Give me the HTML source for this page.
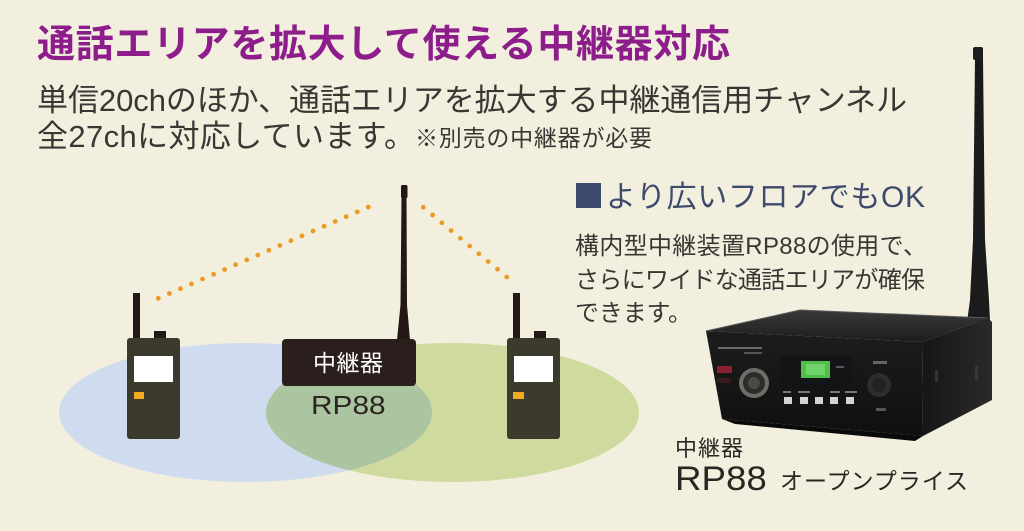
<!DOCTYPE html>
<html><head><meta charset="utf-8"><style>
html,body{margin:0;padding:0;background:#f3efdf;}
svg{display:block;}
text{font-family:"Liberation Sans","Noto Sans CJK JP",sans-serif;}
</style></head><body>
<svg width="1024" height="531" viewBox="0 0 1024 531" xmlns="http://www.w3.org/2000/svg">
<defs>
<clipPath id="cb"><ellipse cx="245.5" cy="412.5" rx="186.5" ry="69.5"/></clipPath>
<linearGradient id="topf" x1="0" y1="0" x2="0" y2="1"><stop offset="0" stop-color="#3a3a3a"/><stop offset="1" stop-color="#1c1c1c"/></linearGradient>
<linearGradient id="frontf" x1="0" y1="0" x2="0" y2="1"><stop offset="0" stop-color="#1d1d1e"/><stop offset="1" stop-color="#0f0f10"/></linearGradient>
<linearGradient id="sidef" x1="0" y1="0" x2="1" y2="0"><stop offset="0" stop-color="#161616"/><stop offset="1" stop-color="#2a2a2a"/></linearGradient>
</defs>
<rect width="1024" height="531" fill="#f3efdf"/>

<!-- Header text -->
<text x="37" y="57" font-size="38" font-weight="bold" fill="#8c1d8a" textLength="693" lengthAdjust="spacing">通話エリアを拡大して使える中継器対応</text>
<text x="37" y="111" font-size="31" fill="#3b3634" textLength="870" lengthAdjust="spacing">単信20chのほか、通話エリアを拡大する中継通信用チャンネル</text>
<text x="37" y="147" font-size="31" fill="#3b3634" textLength="378" lengthAdjust="spacing">全27chに対応しています。</text>
<text x="415" y="146" font-size="23" fill="#3b3634" textLength="237" lengthAdjust="spacing">※別売の中継器が必要</text>

<!-- Right heading -->
<rect x="576" y="183" width="25" height="25" fill="#3e4a6c"/>
<text x="606" y="207" font-size="30" fill="#3e4a6c" textLength="319" lengthAdjust="spacing">より広いフロアでもOK</text>
<text x="575" y="254" font-size="24" fill="#3b3634" textLength="352" lengthAdjust="spacing">構内型中継装置RP88の使用で、</text>
<text x="575" y="288" font-size="24" fill="#3b3634" textLength="350" lengthAdjust="spacing">さらにワイドな通話エリアが確保</text>
<text x="575" y="321" font-size="24" fill="#3b3634" textLength="117" lengthAdjust="spacing">できます。</text>

<!-- Ellipses -->
<ellipse cx="245.5" cy="412.5" rx="186.5" ry="69.5" fill="#cfdbee"/>
<ellipse cx="452.5" cy="412.5" rx="186.5" ry="69.5" fill="#cfda9e"/>
<ellipse cx="452.5" cy="412.5" rx="186.5" ry="69.5" fill="#aac59f" clip-path="url(#cb)"/>

<!-- Dotted links -->
<line x1="158.3" y1="298.3" x2="379.3" y2="202.3" stroke="#ec9a22" stroke-width="4.8" stroke-linecap="round" stroke-dasharray="0 12.05"/>
<line x1="423.3" y1="207.3" x2="516" y2="284.7" stroke="#ec9a22" stroke-width="4.8" stroke-linecap="round" stroke-dasharray="0 12.08"/>

<!-- Left walkie -->
<rect x="133" y="293" width="7" height="48" fill="#231a17"/>
<rect x="154" y="331" width="12" height="10" fill="#231a17"/>
<rect x="127" y="338" width="53" height="101" rx="3" fill="#3c3a2c"/>
<rect x="134" y="356" width="39" height="26" fill="#ffffff"/>
<rect x="134" y="392" width="10" height="7" fill="#f2ab1c"/>

<!-- Right walkie -->
<rect x="513" y="293" width="7" height="48" fill="#231a17"/>
<rect x="534" y="331" width="12" height="10" fill="#231a17"/>
<rect x="507" y="338" width="53" height="101" rx="3" fill="#3c3a2c"/>
<rect x="514" y="356" width="39" height="26" fill="#ffffff"/>
<rect x="513" y="392" width="11" height="7" fill="#f2ab1c"/>

<!-- Repeater -->
<rect x="401" y="185" width="6.5" height="13" rx="1.5" fill="#231815"/>
<polygon points="401.5,197 406.5,197 407,305 410,340 397,340 400.5,305" fill="#231815"/>
<rect x="282" y="339" width="134" height="47" rx="4" fill="#2a1f1c"/>
<text x="313" y="371" font-size="23" fill="#ffffff" textLength="70" lengthAdjust="spacing">中継器</text>
<text transform="translate(311,414) scale(1.17,1)" x="0" y="0" font-size="25.5" fill="#2b2420">RP88</text>

<!-- Device photo (approximation) -->
<rect x="973" y="47" width="10" height="13" rx="2" fill="#1e1e1e"/>
<polygon points="975,58 983,58 985,240 989,300 990,322 967,322 970,300 973,240" fill="#1b1b1b"/>
<polygon points="706,331 800,310 988,318 922,342" fill="url(#topf)"/>
<polyline points="706,331 800,310 988,318" fill="none" stroke="#5a5a5a" stroke-width="1"/>
<polygon points="922,342 988,318 992,322 992,400 923,436" fill="url(#sidef)"/>
<polygon points="706,331 922,342 923,436 722,419" fill="url(#frontf)"/>
<polygon points="722,419 923,436 915,441 735,424" fill="#0a0a0a"/>
<!-- front details -->
<rect x="718" y="347" width="44" height="2" fill="#6a6a6a"/>
<rect x="744" y="352" width="18" height="2" fill="#555"/>
<rect x="717" y="366" width="15" height="7" fill="#8a2030"/>
<rect x="717" y="378" width="14" height="5" fill="#3a1a1e"/>
<circle cx="754" cy="383" r="15" fill="#6e6e68"/>
<circle cx="754" cy="383" r="11" fill="#2c2c2a"/>
<circle cx="754" cy="383" r="6" fill="#4a4a46"/>
<rect x="780" y="356" width="72" height="36" fill="#121416"/>
<rect x="801" y="361" width="29" height="17" fill="#4fbf4a"/>
<rect x="806" y="364" width="19" height="11" fill="#6fd46a"/>
<rect x="836" y="366" width="8" height="2" fill="#556"/>
<rect x="784" y="397" width="8" height="7" fill="#d4d4d0"/>
<rect x="800" y="397" width="8" height="7" fill="#d4d4d0"/>
<rect x="815" y="397" width="8" height="7" fill="#d4d4d0"/>
<rect x="830" y="397" width="8" height="7" fill="#d4d4d0"/>
<rect x="846" y="397" width="8" height="7" fill="#d4d4d0"/>
<rect x="783" y="391" width="8" height="2" fill="#777"/>
<rect x="798" y="391" width="12" height="2" fill="#777"/>
<rect x="830" y="391" width="10" height="2" fill="#777"/>
<rect x="845" y="391" width="12" height="2" fill="#777"/>
<circle cx="879" cy="385" r="12" fill="#2d2d2d"/>
<circle cx="879" cy="385" r="7" fill="#222"/>
<rect x="873" y="361" width="14" height="3" fill="#666"/>
<rect x="876" y="408" width="10" height="3" fill="#555"/>
<rect x="935" y="370" width="3" height="12" fill="#333"/>
<rect x="975" y="366" width="3" height="14" fill="#383838"/>

<!-- Device labels -->
<text x="675" y="456" font-size="22" fill="#2a2624" textLength="68" lengthAdjust="spacing">中継器</text>
<text transform="translate(675,490) scale(1.08,1)" x="0" y="0" font-size="34" fill="#2a2624">RP88</text>
<text x="780" y="489" font-size="23" fill="#2a2624" textLength="188" lengthAdjust="spacing">オープンプライス</text>
</svg>
</body></html>
